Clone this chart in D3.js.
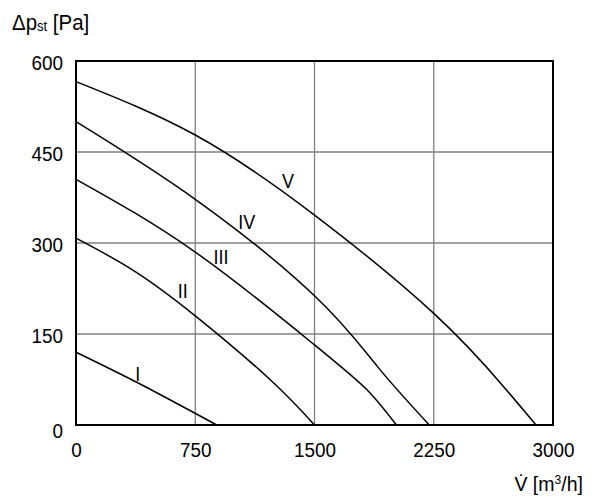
<!DOCTYPE html>
<html><head><meta charset="utf-8">
<script src="https://cdn.jsdelivr.net/npm/d3@7"></script>
<style>
body{margin:0;background:#fff;}
text{font-family:"Liberation Sans",Arial,sans-serif;fill:#000;}
</style></head>
<body>
<svg id="c" width="600" height="500"></svg>
<script>
// Data (flow V in m3/h, static pressure in Pa)
const xTicks = [0, 750, 1500, 2250, 3000];
const yTicks = [0, 150, 300, 450, 600];
const curveNames = ["I", "II", "III", "IV", "V"];
const flowI   = [0, 400, 885];
const pressI  = [120, 68, 0];
const flowII  = [0, 360, 750, 1220, 1500];
const pressII = [308, 255, 180, 75, 0];
const flowIII  = [0, 750, 1500, 1830, 2015];
const pressIII = [405, 285, 132, 58, 0];
const flowIV  = [0, 750, 1500, 1900, 2222];
const pressIV = [500, 372, 213, 95, 0];
const flowV  = [0, 750, 1500, 2250, 2687, 2893];
const pressV = [566, 478, 346, 184, 64, 0];
// label anchor points in data units
const labelFlow  = [388, 671, 912, 1074, 1333];
const labelPress = [85, 222, 277, 335, 402];

const series = [
  {flow: flowI, press: pressI},
  {flow: flowII, press: pressII},
  {flow: flowIII, press: pressIII},
  {flow: flowIV, press: pressIV},
  {flow: flowV, press: pressV}
];

const svg = d3.select("#c");
const x = d3.scaleLinear().domain([0, 3000]).range([76, 553]);
const y = d3.scaleLinear().domain([0, 600]).range([425, 61]);
const SX = 0.9; // condensed look

// grid
const g = svg.append("g");
g.selectAll("line.vx").data(xTicks.slice(1, -1)).enter().append("line")
  .attr("x1", d => x(d)).attr("x2", d => x(d)).attr("y1", y(0)).attr("y2", y(600))
  .attr("stroke", "#808080").attr("stroke-width", 1.3);
g.selectAll("line.hy").data(yTicks.slice(1, -1)).enter().append("line")
  .attr("y1", d => y(d)).attr("y2", d => y(d)).attr("x1", x(0)).attr("x2", x(3000))
  .attr("stroke", "#808080").attr("stroke-width", 1.3);

// curves
const line = d3.line().x(d => x(d[0])).y(d => y(d[1])).curve(d3.curveNatural);
series.forEach(s => {
  const pts = s.flow.map((f, i) => [f, s.press[i]]);
  svg.append("path").attr("d", line(pts)).attr("fill", "none")
    .attr("stroke", "#000").attr("stroke-width", 1.5);
});

// frame
svg.append("rect").attr("x", x(0)).attr("y", y(600))
  .attr("width", x(3000) - x(0)).attr("height", y(0) - y(600))
  .attr("fill", "none").attr("stroke", "#000").attr("stroke-width", 2);

// curve labels
svg.selectAll("g.lab").data(curveNames).enter().append("g")
  .attr("transform", (d, i) => `translate(${x(labelFlow[i])},${y(labelPress[i])}) scale(${SX},1)`)
  .append("text")
  .attr("text-anchor", "middle").attr("dy", "0.36em")
  .attr("font-size", 20).text(d => d);

// axes
const xAxis = d3.axisBottom(x).tickValues(xTicks).tickFormat(d3.format("d")).tickSize(0).tickPadding(0);
const yAxis = d3.axisLeft(y).tickValues(yTicks).tickFormat(d3.format("d")).tickSize(0).tickPadding(0);
const xa = svg.append("g").attr("transform", `translate(0,${y(0)})`).call(xAxis);
const ya = svg.append("g").attr("transform", `translate(${x(0)},0)`).call(yAxis);
[xa, ya].forEach(a => {
  a.select(".domain").remove();
  a.selectAll("text").attr("font-size", 21)
    .style("font-family", '"Liberation Sans",Arial,sans-serif')
    .attr("fill", "#000");
});
xa.selectAll("text").attr("y", 0).attr("dy", 0)
  .attr("transform", `translate(0,31.5) scale(${SX},1)`);
ya.selectAll("text").attr("x", 0).attr("dy", 0)
  .attr("transform", d => `translate(-13,${d === 0 ? 12 : 8}) scale(${SX},1)`);

// axis titles
const ytg = svg.append("g").attr("transform", `translate(12,30) scale(0.93,1)`);
const yt = ytg.append("text").attr("x", 0).attr("y", 0).attr("font-size", 22);
yt.append("tspan").text("Δp");
yt.append("tspan").attr("font-size", 14).attr("dy", 1).text("st");
yt.append("tspan").attr("dy", -1).text(" [Pa]");

const xtg = svg.append("g").attr("transform", `translate(583,491) scale(0.93,1)`);
const xt = xtg.append("text").attr("x", 0).attr("y", 0).attr("font-size", 21)
  .attr("text-anchor", "end");
xt.append("tspan").text("V\u0307 [m");
xt.append("tspan").attr("font-size", 13).attr("dy", -7).text("3");
xt.append("tspan").attr("dy", 7).text("/h]");
</script>
</body></html>
